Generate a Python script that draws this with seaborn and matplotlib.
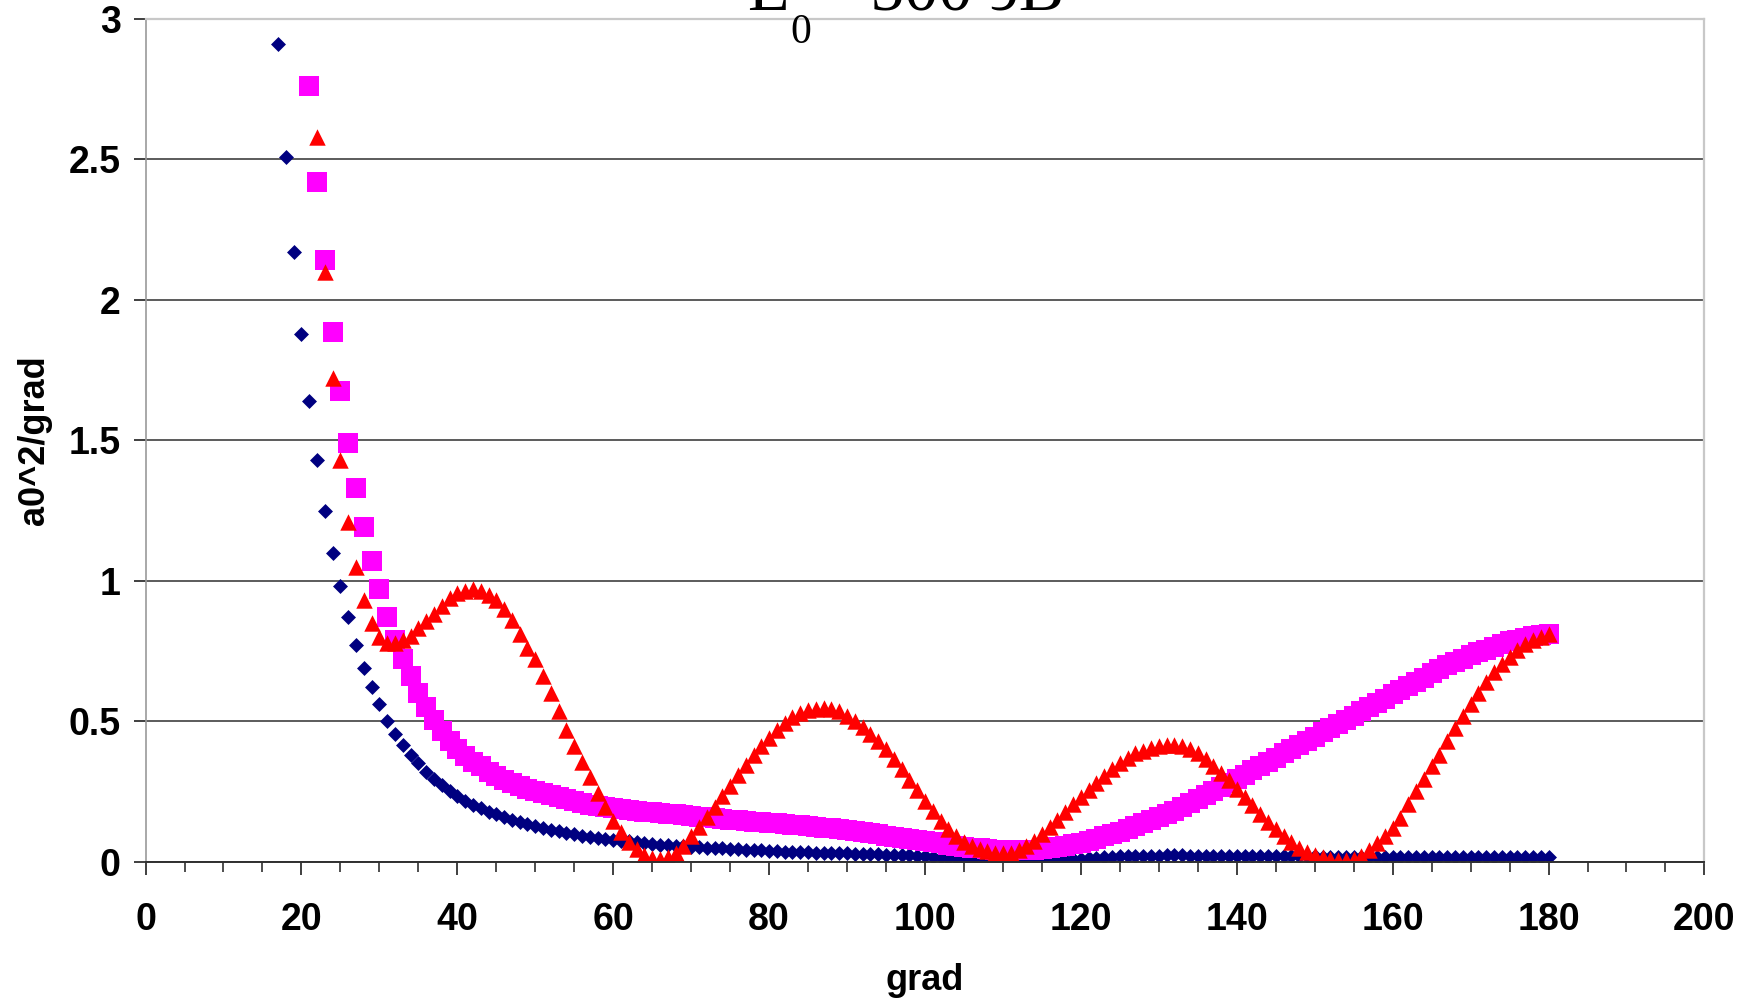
import matplotlib
matplotlib.use("Agg")
import matplotlib.pyplot as plt
import seaborn as sns
import pandas as pd
from matplotlib.ticker import MultipleLocator

# angle grid (degrees) where each series starts
blue_start, pink_start, red_start = 17, 21, 22

blue_vals = [
    2.91, 2.51, 2.17, 1.88, 1.64, 1.43, 1.25, 1.10, 0.98, 0.87,
    0.77, 0.69, 0.62, 0.56, 0.50, 0.455, 0.415, 0.38, 0.35, 0.32,
    0.295, 0.272, 0.25, 0.232, 0.216, 0.202, 0.19, 0.178, 0.168, 0.158,
    0.15, 0.142, 0.134, 0.127, 0.12, 0.114, 0.108, 0.103, 0.098, 0.093,
    0.089, 0.085, 0.081, 0.078, 0.075, 0.072, 0.069, 0.066, 0.064, 0.061,
    0.059, 0.057, 0.055, 0.053, 0.051, 0.05, 0.048, 0.047, 0.045, 0.044,
    0.042, 0.041, 0.04, 0.038, 0.037, 0.036, 0.035, 0.034, 0.033, 0.032,
    0.031, 0.031, 0.03, 0.029, 0.028, 0.028, 0.027, 0.026, 0.025, 0.024,
    0.023, 0.022, 0.021, 0.02, 0.018, 0.016, 0.014, 0.012, 0.01, 0.008,
    0.007, 0.006, 0.005, 0.005, 0.004, 0.004, 0.004, 0.004, 0.005, 0.005,
    0.006, 0.007, 0.008, 0.01, 0.012, 0.014, 0.016, 0.018, 0.019, 0.02,
    0.02, 0.021, 0.021, 0.021, 0.022, 0.022, 0.022, 0.021, 0.021, 0.021,
    0.021, 0.021, 0.02, 0.02, 0.02, 0.02, 0.02, 0.02, 0.019, 0.019,
    0.019, 0.019, 0.019, 0.019, 0.018, 0.018, 0.018, 0.018, 0.018, 0.018,
    0.018, 0.017, 0.017, 0.017, 0.017, 0.017, 0.017, 0.017, 0.016, 0.016,
    0.016, 0.016, 0.016, 0.016, 0.016, 0.016, 0.015, 0.015, 0.015, 0.015,
    0.015, 0.015, 0.015, 0.015,
]

pink_vals = [
    2.76, 2.42, 2.14, 1.885, 1.675, 1.49, 1.33, 1.19, 1.07, 0.97,
    0.87, 0.79, 0.72, 0.66, 0.60, 0.55, 0.505, 0.465, 0.43, 0.40,
    0.375, 0.355, 0.34, 0.32, 0.305, 0.29, 0.28, 0.27, 0.26, 0.252,
    0.245, 0.238, 0.23, 0.222, 0.215, 0.208, 0.202, 0.197, 0.193, 0.19,
    0.187, 0.184, 0.181, 0.178, 0.175, 0.172, 0.17, 0.168, 0.165, 0.162,
    0.16, 0.158, 0.155, 0.152, 0.15, 0.147, 0.145, 0.142, 0.14, 0.138,
    0.136, 0.134, 0.132, 0.13, 0.127, 0.124, 0.121, 0.118, 0.115, 0.112,
    0.109, 0.105, 0.101, 0.097, 0.093, 0.089, 0.085, 0.081, 0.077, 0.073,
    0.069, 0.065, 0.061, 0.057, 0.053, 0.05, 0.047, 0.045, 0.043, 0.042,
    0.041, 0.041, 0.042, 0.043, 0.045, 0.048, 0.052, 0.057, 0.062, 0.068,
    0.075, 0.082, 0.09, 0.098, 0.107, 0.116, 0.126, 0.136, 0.147, 0.158,
    0.17, 0.182, 0.195, 0.208, 0.222, 0.236, 0.25, 0.265, 0.28, 0.295,
    0.31, 0.325, 0.34, 0.355, 0.37, 0.385, 0.40, 0.415, 0.43, 0.445,
    0.46, 0.475, 0.49, 0.505, 0.52, 0.535, 0.55, 0.565, 0.58, 0.595,
    0.61, 0.625, 0.64, 0.655, 0.67, 0.685, 0.70, 0.71, 0.72, 0.735,
    0.745, 0.755, 0.765, 0.775, 0.785, 0.79, 0.797, 0.802, 0.806, 0.81,
]

red_vals = [
    2.58, 2.10, 1.72, 1.43, 1.21, 1.05, 0.93, 0.85, 0.80, 0.78,
    0.78, 0.79, 0.805, 0.83, 0.855, 0.88, 0.91, 0.94, 0.955, 0.965,
    0.97, 0.965, 0.95, 0.93, 0.90, 0.86, 0.81, 0.76, 0.72, 0.66,
    0.60, 0.535, 0.47, 0.41, 0.355, 0.30, 0.245, 0.195, 0.145, 0.105,
    0.07, 0.045, 0.025, 0.012, 0.008, 0.015, 0.03, 0.055, 0.09, 0.125,
    0.16, 0.195, 0.235, 0.27, 0.31, 0.345, 0.38, 0.41, 0.44, 0.47,
    0.495, 0.515, 0.53, 0.54, 0.545, 0.548, 0.545, 0.535, 0.52, 0.50,
    0.48, 0.455, 0.43, 0.40, 0.365, 0.33, 0.29, 0.255, 0.215, 0.18,
    0.145, 0.115, 0.09, 0.07, 0.055, 0.045, 0.038, 0.032, 0.03, 0.032,
    0.04, 0.055, 0.075, 0.10, 0.125, 0.15, 0.175, 0.205, 0.23, 0.255,
    0.28, 0.305, 0.33, 0.35, 0.37, 0.385, 0.395, 0.405, 0.41, 0.415,
    0.415, 0.41, 0.40, 0.385, 0.365, 0.34, 0.315, 0.29, 0.26, 0.23,
    0.20, 0.17, 0.14, 0.115, 0.09, 0.07, 0.05, 0.035, 0.025, 0.015,
    0.008, 0.005, 0.006, 0.01, 0.02, 0.04, 0.065, 0.09, 0.12, 0.155,
    0.205, 0.25, 0.295, 0.34, 0.38, 0.43, 0.475, 0.52, 0.56, 0.60,
    0.64, 0.675, 0.705, 0.73, 0.755, 0.775, 0.79, 0.80, 0.81,
]

y_ticks = [0, 0.5, 1, 1.5, 2, 2.5, 3]
y_labels = ["0", "0.5", "1", "1.5", "2", "2.5", "3"]


def series(start, vals):
    return pd.DataFrame({"grad": list(range(start, start + len(vals))),
                         "val": vals})


if __name__ == "__main__":
    sns.set_style("white")
    plt.rcParams["font.family"] = ["Liberation Sans", "DejaVu Sans"]
    plt.rcParams["text.color"] = "black"
    plt.rcParams["axes.labelcolor"] = "black"
    plt.rcParams["xtick.labelcolor"] = "black"
    plt.rcParams["ytick.labelcolor"] = "black"

    fig = plt.figure(figsize=(17.41, 10.06), dpi=100)
    ax = fig.add_axes([0.0836, 0.1435, 0.8954, 0.8377])

    sns.scatterplot(data=series(blue_start, blue_vals), x="grad", y="val",
                    marker="D", s=58, color="#000080", linewidth=0, ax=ax)
    sns.scatterplot(data=series(pink_start, pink_vals), x="grad", y="val",
                    marker="s", s=190, color="#ff00ff", linewidth=0, ax=ax)
    sns.scatterplot(data=series(red_start, red_vals), x="grad", y="val",
                    marker="^", s=140, color="#ff0000", linewidth=0, ax=ax)

    ax.set_xlim(0, 200)
    ax.set_ylim(0, 3)
    ax.xaxis.set_major_locator(MultipleLocator(20))
    ax.xaxis.set_minor_locator(MultipleLocator(5))
    ax.set_yticks(y_ticks)
    ax.set_yticklabels(y_labels)

    ax.set_axisbelow(True)
    ax.yaxis.grid(True, color="#404040", linewidth=1.2)
    ax.xaxis.grid(False)

    for side in ["top", "right"]:
        ax.spines[side].set_color("#c8c8c8")
        ax.spines[side].set_linewidth(1.6)
    ax.spines["left"].set_color("#9a9a9a")
    ax.spines["left"].set_linewidth(1.2)
    ax.spines["bottom"].set_color("#303030")
    ax.spines["bottom"].set_linewidth(1.4)

    ax.tick_params(axis="x", which="major", direction="out", length=9,
                   width=1.3, color="#303030", labelcolor="black", pad=20,
                   bottom=True)
    ax.tick_params(axis="x", which="minor", direction="out", length=7,
                   width=1.2, color="#303030", bottom=True)
    ax.tick_params(axis="y", which="major", direction="out", length=9,
                   width=1.3, color="#303030", labelcolor="black", pad=9,
                   left=True)
    for lbl in ax.get_xticklabels() + ax.get_yticklabels():
        lbl.set_fontsize(27)
        lbl.set_fontweight("bold")

    ax.set_xlabel("grad", fontsize=26, fontweight="bold", labelpad=18,
                  color="black")
    ax.set_ylabel("a0^2/grad", fontsize=26, fontweight="bold", labelpad=12,
                  color="black")

    # title sits partly above the canvas, as in the source figure
    serif = ["Liberation Serif", "DejaVu Serif"]
    fig.text(0.429, 0.990, "E", fontsize=49, family=serif, ha="left",
             va="baseline", color="black")
    fig.text(0.454, 0.957, "0", fontsize=30, family=serif, ha="left",
             va="baseline", color="black")
    fig.text(0.468, 0.990, "= 500 эВ", fontsize=49, family=serif, ha="left",
             va="baseline", color="black")

    fig.savefig("out.png", dpi=100)
    plt.close(fig)
